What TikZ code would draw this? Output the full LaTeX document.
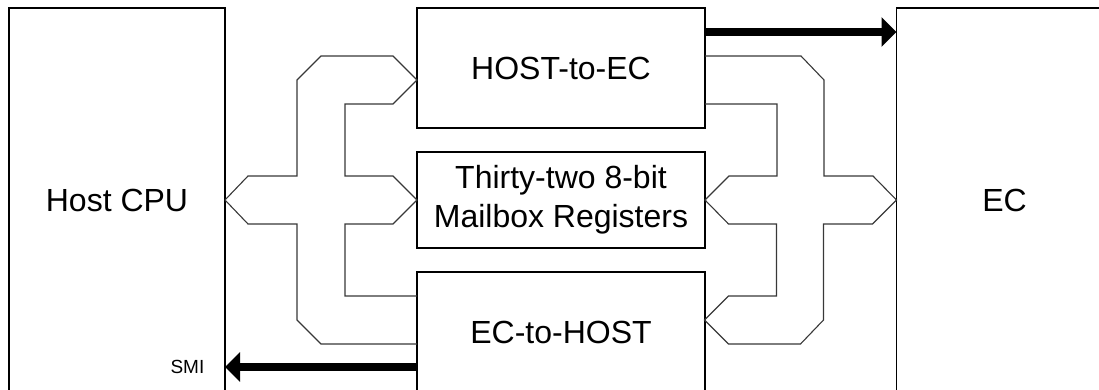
\documentclass[tikz,border=0pt]{standalone}
\usepackage{fontspec}
\setmainfont{Liberation Sans}
\usepackage{tikz}
\usetikzlibrary{arrows.meta}
\usetikzlibrary{calc}
\usetikzlibrary{positioning}

\begin{document}
\begin{tikzpicture}
[
	x = 0.5pt, y = -0.5pt,
	block/.style = {rectangle, draw = black, line width = 0.75pt, inner sep = 0cm, outer sep = 0cm, font = \fontsize{16}{19.5}\selectfont, align = center},
	side/.style = {block, minimum width = 108pt, minimum height = 192pt},
	reg/.style = {block, minimum width = 144pt, minimum height = 60pt},
	bus/.style = {draw = black!78, line width = 0.55pt},
	signal/.style = {line width = 4pt, -{Triangle[length = 7.5pt, width = 14.5pt]}},
]

	\useasboundingbox (0,0) rectangle (1099,390);

	% blocks
	\node (cpu) [side] at (117,200) {Host CPU};
	\node (ec) [side] at (1004.5,200) {EC};
	%
	\node (h2e) [reg] at (561,68) {HOST-to-EC};
	\node (mbox) [reg, minimum height = 48pt] at (561,200) {Thirty-two 8-bit\\Mailbox Registers};
	\node (e2h) [reg] at (561,332) {EC-to-HOST};

	% host side bus
	\draw [bus] (cpu.east) -- ++(23,-24) -- ++(49,0) -- ++(0,-96) -- ++(24,-24) -- ++(72,0)
		-- ++(24,24) -- ++(-24,24) -- ++(-48,0) -- ++(0,72) -- ++(48,0)
		-- (mbox.west) -- ++(-24,24) -- ++(-48,0) -- ++(0,72) -- ++(72,0)
		++(0,48) -- ++(-96,0) -- ++(-24,-24) -- ++(0,-96) -- ++(-49,0) -- (cpu.east);

	% EC side bus
	\draw [bus] ([yshift = -24pt]h2e.north east) -- ++(96,0) -- ++(23,24) -- ++(0,96) -- ++(49,0)
		-- (ec.west) -- ++(-24,24) -- ++(-49,0) -- ++(0,96) -- ++(-23,24) -- ++(-72,0)
		-- ++(-24,-24) -- ++(24,-24) -- ++(48,0) -- ++(0,-72) -- ++(-48,0)
		-- (mbox.east) -- ++(24,-24) -- ++(48,0) -- ++(0,-72) -- ++(-72,0);

	% signals
	\coordinate (h2eout) at ([yshift = -12pt]h2e.north east);
	\draw [signal] (h2eout) -- (h2eout -| ec.west);
	%
	\coordinate (smiout) at ([yshift = -47.5pt]e2h.north west);
	\draw [signal] (smiout) -- (smiout -| cpu.east)
		node (smi) [left = 5pt, font = \fontsize{9.5}{11}\selectfont] {SMI};

\end{tikzpicture}
\end{document}
